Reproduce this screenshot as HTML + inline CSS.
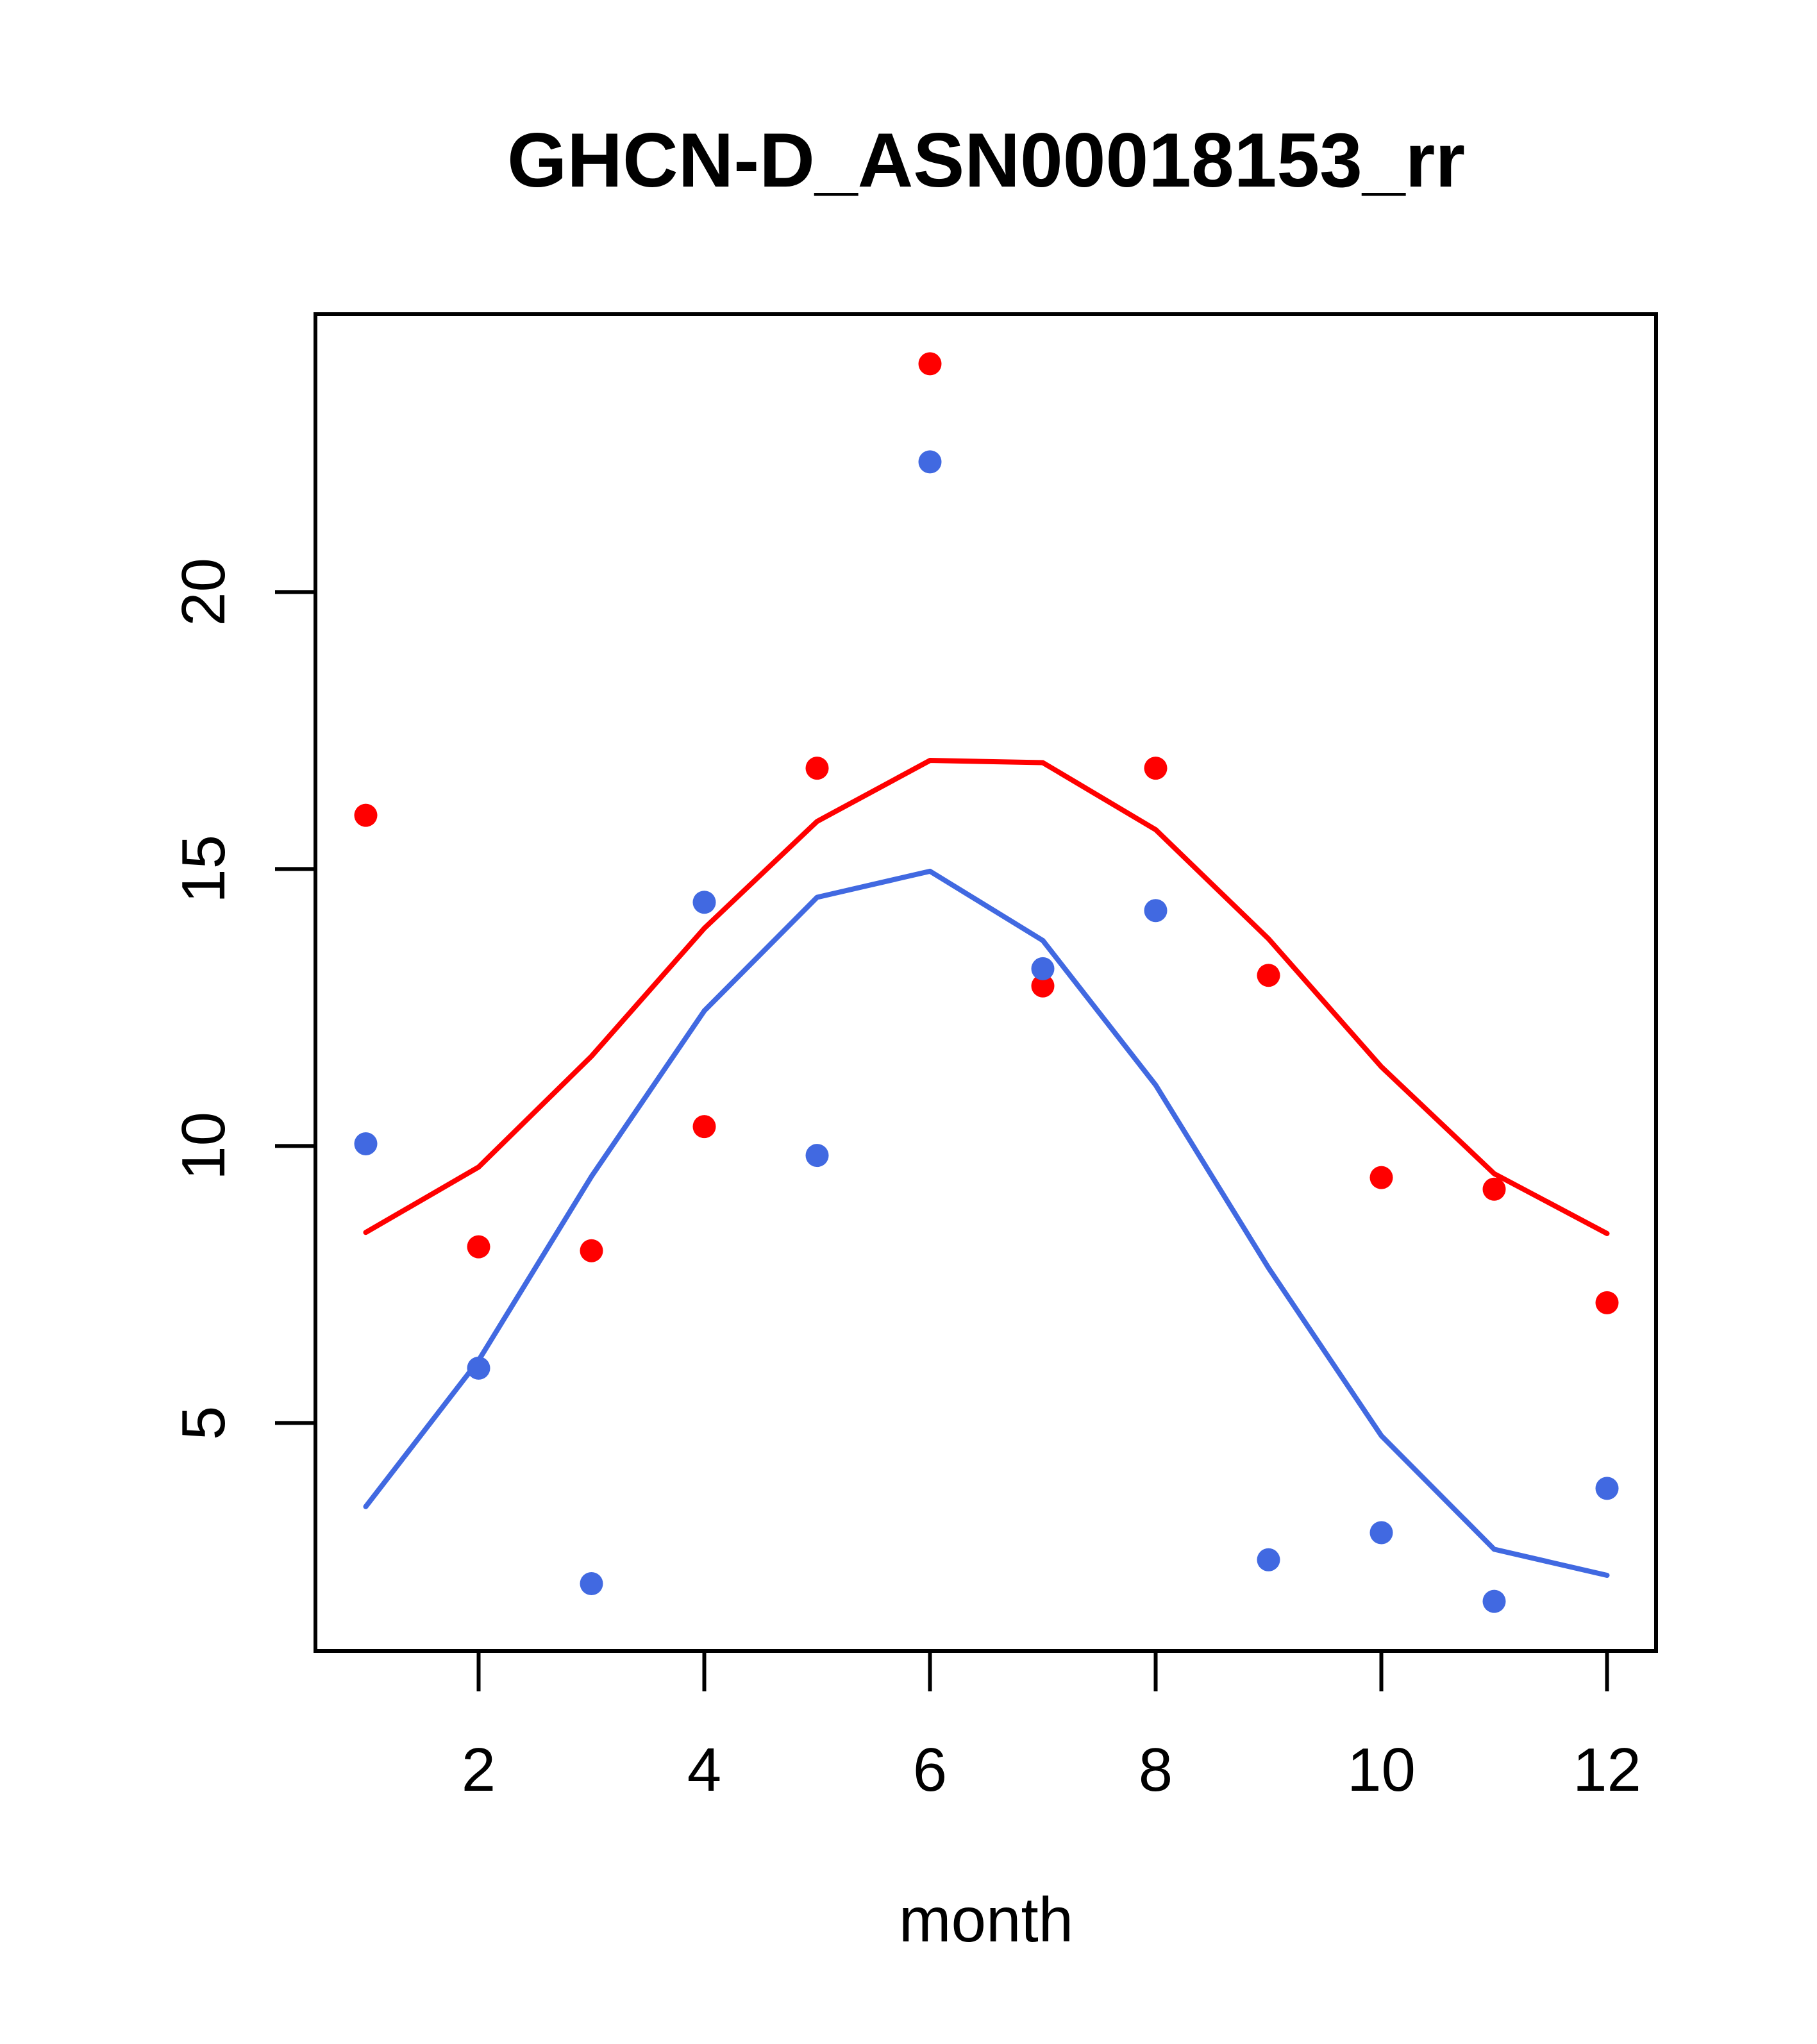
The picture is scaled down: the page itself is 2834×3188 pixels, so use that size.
<!DOCTYPE html>
<html><head><meta charset="utf-8"><style>body{margin:0;background:#fff}svg{display:block}</style></head>
<body>
<svg id="chart" width="2834" height="3188" xmlns="http://www.w3.org/2000/svg" font-family="Liberation Sans, Arial, sans-serif">
<rect width="2834" height="3188" fill="#fff"/>
<text x="1538" y="291" font-size="120" font-weight="bold" text-anchor="middle">GHCN-D_ASN00018153_rr</text>
<text x="1538" y="3028" font-size="98" text-anchor="middle">month</text>
<rect x="492" y="490" width="2091" height="2085" fill="none" stroke="#000" stroke-width="6"/>
<g id="axes"></g><g id="marks"></g>
</svg>
<script>
const months = [1,2,3,4,5,6,7,8,9,10,11,12];
const redPoints = [15.97,8.18,8.11,10.35,16.82,24.12,12.89,16.82,13.08,9.43,9.22,7.17];
const bluePoints = [10.04,5.99,2.10,14.40,9.83,22.35,13.20,14.25,2.53,3.02,1.78,3.82];
const redLine = [8.44,9.62,11.62,13.93,15.86,16.96,16.92,15.71,13.74,11.43,9.50,8.42];
const blueLine = [3.49,6.13,9.45,12.44,14.49,14.96,13.71,11.10,7.80,4.77,2.72,2.25];
const xTicks = [2,4,6,8,10,12];
const yTicks = [5,10,15,20];
const NS='http://www.w3.org/2000/svg';
function xs(m){return 746.5+(m-2)*176;}
function ys(v){return 923.4+(20-v)*86.4;}
const axes=document.getElementById('axes'), marks=document.getElementById('marks');
function mk(t,a,p){const e=document.createElementNS(NS,t);for(const k in a)e.setAttribute(k,a[k]);p.appendChild(e);return e;}
xTicks.forEach(t=>{
  const l=mk('line',{x1:xs(t),x2:xs(t),y1:2575,y2:2638,stroke:'#000','stroke-width':6},axes);
  
  
  const tx=mk('text',{x:xs(t),y:2793,'font-size':96,'text-anchor':'middle'},axes);tx.textContent=t;
  
  
});
yTicks.forEach(t=>{
  const l=mk('line',{x1:429,x2:492,y1:ys(t),y2:ys(t),stroke:'#000','stroke-width':6},axes);
  
  
  const tx=mk('text',{x:0,y:0,'font-size':96,'text-anchor':'middle',transform:`translate(350,${ys(t)}) rotate(-90)`},axes);tx.textContent=t;
  
  
});
function line(vals,col,name){
  const p=mk('polyline',{points:vals.map((v,i)=>xs(months[i])+','+ys(v)).join(' '),fill:'none',stroke:col,'stroke-width':8,'stroke-linejoin':'round','stroke-linecap':'round'},marks);
  
  
}
function pts(vals,col,name){
  vals.forEach((v,i)=>{
    const c=mk('circle',{cx:xs(months[i]),cy:ys(v),r:18,fill:col},marks);
    
    
  });
}
line(redLine,'#ff0000','red-line');
line(blueLine,'#4169e1','blue-line');
pts(redPoints,'#ff0000','red-point');
pts(bluePoints,'#4169e1','blue-point');
</script>
</body></html>
